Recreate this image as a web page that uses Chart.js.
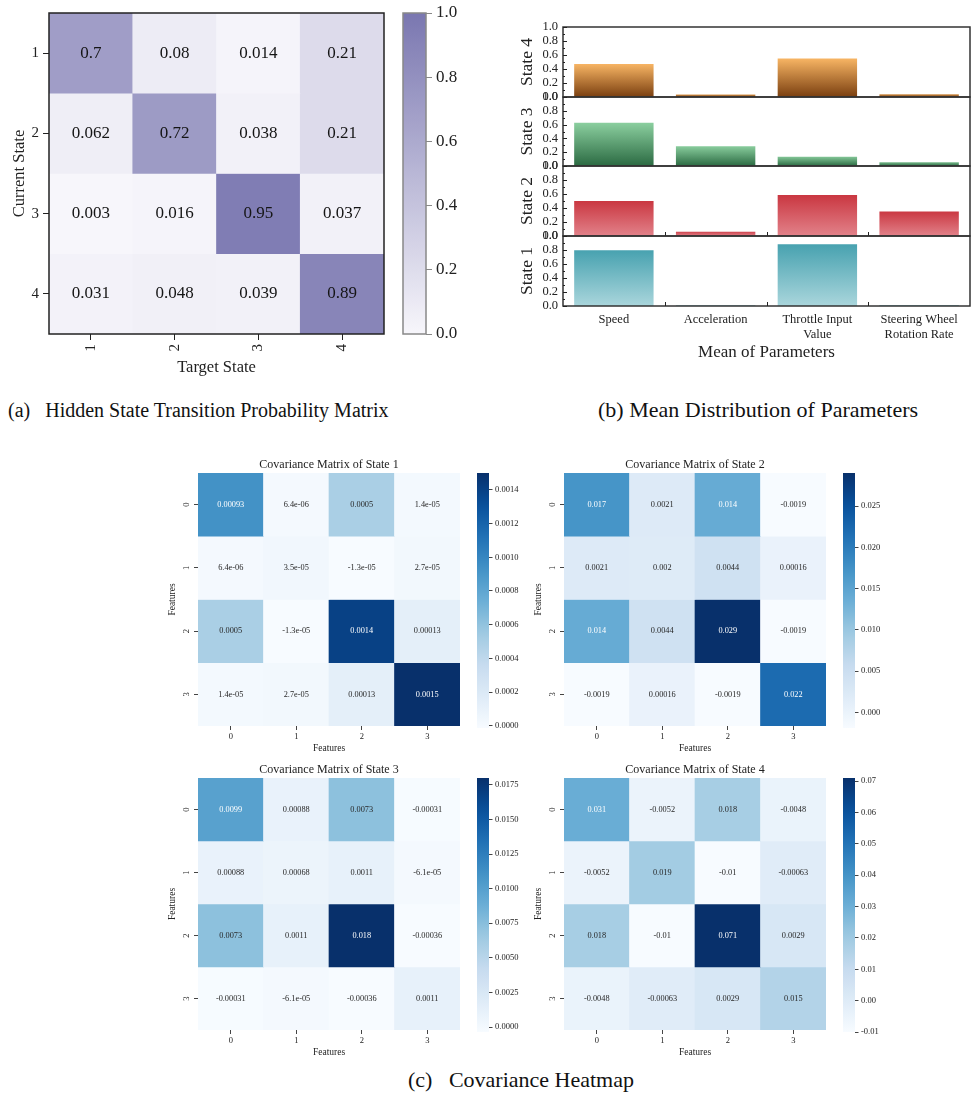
<!DOCTYPE html>
<html>
<head>
<meta charset="utf-8">
<script src="https://cdn.jsdelivr.net/npm/chart.js@4.4.1/dist/chart.umd.min.js"></script>
<style>
  body { margin: 0; background: #fff; width: 979px; height: 1098px; position: relative; overflow: hidden; }
  .cap { position: absolute; white-space: pre; color: #111; font-family: "Liberation Serif", "Times New Roman", serif; line-height: 1; }
</style>
</head>
<body>
<div class="cap" style="left:8px;top:400px;font-size:20px">(a)   Hidden State Transition Probability Matrix</div>
<div class="cap" style="left:598px;top:399px;font-size:22px">(b) Mean Distribution of Parameters</div>
<div class="cap" style="left:408px;top:1069px;font-size:22px">(c)   Covariance Heatmap</div>
<script>
// transition matrix (rows = current state, cols = target state)
const stateLabels = ['1', '2', '3', '4'];
const transition = [
  [0.7, 0.08, 0.014, 0.21],
  [0.062, 0.72, 0.038, 0.21],
  [0.003, 0.016, 0.95, 0.037],
  [0.031, 0.048, 0.039, 0.89]
];
const transitionTicks = [0, 0.2, 0.4, 0.6, 0.8, 1.0];

// normalised parameter means per state
const paramLabels = ['Speed', 'Acceleration', ['Throttle Input', 'Value'], ['Steering Wheel', 'Rotation Rate']];
const meanState4 = [0.485, 0.05, 0.565, 0.055];
const meanState3 = [0.64, 0.30, 0.15, 0.07];
const meanState2 = [0.515, 0.075, 0.60, 0.365];
const meanState1 = [0.81, 0.025, 0.895, 0.03];

// covariance matrices
const featureLabels = ['0', '1', '2', '3'];
const covState1 = [
  [0.00093, 6.4e-06, 0.0005, 1.4e-05],
  [6.4e-06, 3.5e-05, -1.3e-05, 2.7e-05],
  [0.0005, -1.3e-05, 0.0014, 0.00013],
  [1.4e-05, 2.7e-05, 0.00013, 0.0015]
];
const covState2 = [
  [0.017, 0.0021, 0.014, -0.0019],
  [0.0021, 0.002, 0.0044, 0.00016],
  [0.014, 0.0044, 0.029, -0.0019],
  [-0.0019, 0.00016, -0.0019, 0.022]
];
const covState3 = [
  [0.0099, 0.00088, 0.0073, -0.00031],
  [0.00088, 0.00068, 0.0011, -6.1e-05],
  [0.0073, 0.0011, 0.018, -0.00036],
  [-0.00031, -6.1e-05, -0.00036, 0.0011]
];
const covState4 = [
  [0.031, -0.0052, 0.018, -0.0048],
  [-0.0052, 0.019, -0.01, -0.00063],
  [0.018, -0.01, 0.071, 0.0029],
  [-0.0048, -0.00063, 0.0029, 0.015]
];
const covTicks1 = [0, 0.0002, 0.0004, 0.0006, 0.0008, 0.0010, 0.0012, 0.0014];
const covTicks2 = [0, 0.005, 0.010, 0.015, 0.020, 0.025];
const covTicks3 = [0, 0.0025, 0.0050, 0.0075, 0.0100, 0.0125, 0.0150, 0.0175];
const covTicks4 = [-0.01, 0, 0.01, 0.02, 0.03, 0.04, 0.05, 0.06, 0.07];

const SERIF = '"Liberation Serif", "Times New Roman", serif';
Chart.defaults.font.family = SERIF;
Chart.defaults.color = '#222';
Chart.defaults.animation = false;
Chart.defaults.responsive = false;
Chart.defaults.plugins.legend.display = false;
Chart.defaults.plugins.tooltip.enabled = false;

const purpleStops = ['#f7f6fb', '#7a77b0'];
const bluesStops = ['#f7fbff', '#deebf7', '#c6dbef', '#9ecae1', '#6baed6', '#4292c6', '#2171b5', '#08519c', '#08306b'];

function hexToRgb(h) {
  return [1, 3, 5].map(i => parseInt(h.slice(i, i + 2), 16));
}
function rgbToHex(c) {
  return '#' + c.map(v => v.toString(16).padStart(2, '0')).join('');
}
function rampColor(stops, t) {
  t = Math.min(1, Math.max(0, t));
  const n = stops.length - 1;
  const i = Math.min(n - 1, Math.floor(t * n));
  const f = t * n - i;
  const a = hexToRgb(stops[i]), b = hexToRgb(stops[i + 1]);
  return rgbToHex(a.map((v, k) => Math.round(v + (b[k] - v) * f)));
}
function luminance(hex) {
  const [r, g, b] = hexToRgb(hex).map(v => {
    v /= 255;
    return v <= 0.03928 ? v / 12.92 : Math.pow((v + 0.055) / 1.055, 2.4);
  });
  return 0.2126 * r + 0.7152 * g + 0.0722 * b;
}
// light cells get dark text, dark cells white
const seabornText = hex => luminance(hex) > 0.408 ? '#262626' : '#ffffff';

// python-style "%.2g"
function fmtG(v) {
  if (v === 0) return '0';
  const e = Math.floor(Math.log10(Math.abs(v)));
  if (e < -4) {
    let [m, ex] = v.toExponential(1).split('e');
    m = m.replace(/\.0$/, '');
    const n = parseInt(ex, 10);
    return m + 'e' + (n < 0 ? '-' : '+') + String(Math.abs(n)).padStart(2, '0');
  }
  return String(parseFloat(v.toPrecision(2)));
}

function makeCanvas(left, top, w, h) {
  const c = document.createElement('canvas');
  c.width = w;
  c.height = h;
  c.style.cssText = `position:absolute;left:${left}px;top:${top}px;width:${w}px;height:${h}px`;
  document.body.appendChild(c);
  return c;
}

function rampFill(chart, stops) {
  const a = chart.chartArea;
  if (!a) return stops[0];
  const g = chart.ctx.createLinearGradient(0, a.bottom, 0, a.top);
  for (let i = 0; i <= 20; i++) g.addColorStop(i / 20, rampColor(stops, i / 20));
  return g;
}

const frame = {
  id: 'frame',
  afterDatasetsDraw(chart, args, opts) {
    if (!opts.width) return;
    const { ctx, chartArea: a } = chart;
    ctx.save();
    ctx.strokeStyle = opts.color;
    ctx.lineWidth = opts.width;
    ctx.strokeRect(a.left, a.top, a.right - a.left, a.bottom - a.top);
    ctx.restore();
  }
};

function cellText(size, colorFor) {
  return {
    id: 'cellText',
    afterDatasetsDraw(chart) {
      const ctx = chart.ctx;
      ctx.save();
      ctx.font = `${size}px ${SERIF}`;
      ctx.textAlign = 'center';
      ctx.textBaseline = 'middle';
      chart.data.datasets.forEach((ds, r) => {
        chart.getDatasetMeta(r).data.forEach((bar, c) => {
          ctx.fillStyle = colorFor(ds.backgroundColor[c]);
          ctx.fillText(fmtG(ds.values[c]), bar.x, (bar.y + bar.base) / 2);
        });
      });
      ctx.restore();
    }
  };
}

// vertical tick labels on the left axis
function rotatedYLabels(labels, size) {
  return {
    id: 'rotatedYLabels',
    afterDraw(chart) {
      const { ctx, chartArea, scales } = chart;
      ctx.save();
      ctx.font = `${size}px ${SERIF}`;
      ctx.fillStyle = '#222';
      ctx.textAlign = 'center';
      ctx.textBaseline = 'middle';
      labels.forEach((lab, i) => {
        ctx.save();
        ctx.translate(chartArea.left - 11, scales.y.getPixelForValue(i + 0.5));
        ctx.rotate(-Math.PI / 2);
        ctx.fillText(lab, 0, 0);
        ctx.restore();
      });
      ctx.restore();
    }
  };
}

// ticks pointing into the plot
function innerTicks(withXTicks) {
  return {
    id: 'innerTicks',
    afterDraw(chart) {
      const { ctx, chartArea: a, scales } = chart;
      ctx.save();
      ctx.strokeStyle = '#222';
      ctx.lineWidth = 1;
      ctx.beginPath();
      for (let i = 0; i <= 10; i++) {
        const y = Math.round(scales.y.getPixelForValue(i / 10)) + 0.5;
        ctx.moveTo(a.left, y);
        ctx.lineTo(a.left + (i % 2 === 0 ? 4 : 2), y);
      }
      if (withXTicks) {
        for (let k = 1; k < paramLabels.length; k++) {
          const x = Math.round((scales.x.getPixelForValue(k - 1) + scales.x.getPixelForValue(k)) / 2) + 0.5;
          ctx.moveTo(x, a.bottom);
          ctx.lineTo(x, a.bottom - 4);
        }
      }
      ctx.stroke();
      ctx.restore();
    }
  };
}

function colorbar(canvas, vmin, vmax, ticks, stops, o) {
  return new Chart(canvas, {
    type: 'bar',
    data: {
      labels: [''],
      datasets: [{
        data: [[vmin, vmax]],
        backgroundColor: c => rampFill(c.chart, stops),
        borderWidth: 0,
        barPercentage: 1,
        categoryPercentage: 1
      }]
    },
    options: {
      layout: { padding: o.padding },
      scales: {
        x: { display: false },
        y: {
          position: 'right',
          min: vmin,
          max: vmax,
          afterBuildTicks(s) { s.ticks = ticks.map(v => ({ value: v })); },
          ticks: { callback: v => v.toFixed(o.digits), font: { size: o.fontSize }, padding: o.pad, autoSkip: false, color: '#222' },
          grid: { drawOnChartArea: false, tickLength: o.tickLen, color: o.tickColor },
          border: { display: false },
          afterFit(s) { s.width = o.axisWidth; }
        }
      },
      plugins: { frame: { color: o.frameColor, width: o.frameWidth } }
    },
    plugins: [frame]
  });
}

function cellDatasets(matrix, color) {
  return matrix.map((row, r) => ({
    data: row.map(() => [r, r + 1]),
    values: row,
    backgroundColor: row.map(color),
    borderWidth: 0,
    barPercentage: 1,
    categoryPercentage: 1,
    grouped: false
  }));
}

// ---------- (a) transition probabilities ----------
new Chart(makeCanvas(0, 0, 400, 380), {
  type: 'bar',
  data: { labels: stateLabels, datasets: cellDatasets(transition, v => rampColor(purpleStops, v)) },
  options: {
    layout: { padding: { top: 13, right: 16 } },
    scales: {
      x: {
        offset: true,
        grid: { offset: false, drawOnChartArea: false, tickLength: 6, color: '#222' },
        border: { display: false },
        ticks: { minRotation: 90, maxRotation: 90, padding: 4, font: { size: 15 }, color: '#222' },
        title: { display: true, text: 'Target State', font: { size: 16.5 }, color: '#222', padding: { top: 0, bottom: 2 } },
        afterFit(s) { s.height = 46; }
      },
      y: {
        min: 0, max: 4, reverse: true,
        afterBuildTicks(s) { s.ticks = stateLabels.map((_, i) => ({ value: i + 0.5 })); },
        ticks: { callback: (v, i) => stateLabels[i], font: { size: 15 }, padding: 4, autoSkip: false, color: '#222' },
        grid: { drawOnChartArea: false, tickLength: 6, color: '#222' },
        border: { display: false },
        title: { display: true, text: 'Current State', font: { size: 16.5 }, color: '#222', padding: { top: 10, bottom: 0 } },
        afterFit(s) { s.width = 49; }
      }
    },
    plugins: { frame: { color: '#222', width: 1.5 } }
  },
  plugins: [cellText(17, () => '#151515'), frame]
});

colorbar(makeCanvas(396, -3, 80, 353), 0, 1, transitionTicks, purpleStops, {
  padding: { left: 7, top: 16, bottom: 16 }, digits: 1, fontSize: 17, pad: 4,
  tickLen: 6, tickColor: '#888', axisWidth: 50, frameColor: '#888', frameWidth: 1.5
});

// ---------- (b) mean of parameters ----------
function barFill(top, bottom) {
  return c => {
    const { chart, raw } = c;
    if (!chart.chartArea || typeof raw !== 'number') return top;
    const y = chart.scales.y;
    const g = chart.ctx.createLinearGradient(0, y.getPixelForValue(raw), 0, y.getPixelForValue(0));
    g.addColorStop(0, top);
    g.addColorStop(1, bottom);
    return g;
  };
}

function meanChart(canvas, values, colors, o) {
  return new Chart(canvas, {
    type: 'bar',
    data: {
      labels: paramLabels,
      datasets: [{
        data: values,
        backgroundColor: barFill(colors[0], colors[1]),
        borderColor: 'rgba(255,255,255,0.9)',
        borderWidth: 1,
        barPercentage: 0.8,
        categoryPercentage: 1
      }]
    },
    options: {
      layout: { padding: o.padding },
      scales: {
        x: {
          display: o.showX,
          grid: { display: false, drawTicks: false },
          border: { display: false },
          ticks: { font: { size: 12.5 }, padding: 6, maxRotation: 0, autoSkip: false, color: '#222' },
          title: { display: true, text: 'Mean of Parameters', font: { size: 17 }, color: '#222', padding: { top: 0, bottom: 7 } },
          afterFit(s) { if (o.showX) s.height = 64; }
        },
        y: {
          min: 0, max: 1,
          ticks: { stepSize: 0.2, padding: 5, autoSkip: false, font: { size: 12.5 }, color: '#222', callback: v => v.toFixed(1) },
          grid: { display: false, drawTicks: false },
          border: { display: false },
          title: { display: true, text: o.title, font: { size: 17.5 }, color: '#222', padding: { top: 27, bottom: 0 } },
          afterFit(s) { s.width = 73; }
        }
      },
      plugins: { frame: { color: '#333', width: 1.5 } }
    },
    plugins: [frame, innerTicks(o.xTicks)]
  });
}

meanChart(makeCanvas(490, 10, 489, 101), meanState4, ['#fbb866', '#7a3f10'],
  { title: 'State 4', padding: { top: 17, right: 9, bottom: 14 }, showX: false, xTicks: false });
meanChart(makeCanvas(490, 83, 489, 97), meanState3, ['#8dd1a1', '#2b6a42'],
  { title: 'State 3', padding: { top: 14, right: 9, bottom: 14 }, showX: false, xTicks: false });
meanChart(makeCanvas(490, 152, 489, 98), meanState2, ['#c9353f', '#e2828a'],
  { title: 'State 2', padding: { top: 14, right: 9, bottom: 14 }, showX: false, xTicks: true });
meanChart(makeCanvas(490, 222, 489, 148), meanState1, ['#46a1af', '#aad6dc'],
  { title: 'State 1', padding: { top: 14, right: 9, bottom: 0 }, showX: true, xTicks: true });

// ---------- (c) covariance heatmaps ----------
function covarianceMap(left, top, height, title, matrix, ticks, digits) {
  const flat = matrix.flat();
  const vmin = Math.min(...flat), vmax = Math.max(...flat);
  const color = v => rampColor(bluesStops, (v - vmin) / (vmax - vmin));
  new Chart(makeCanvas(left, top, 310, height), {
    type: 'bar',
    data: { labels: featureLabels, datasets: cellDatasets(matrix, color) },
    options: {
      layout: { padding: { right: 10 } },
      scales: {
        x: {
          offset: true,
          grid: { offset: false, drawOnChartArea: false, tickLength: 4, color: '#444' },
          border: { display: false },
          ticks: { font: { size: 8.5 }, padding: 2, maxRotation: 0, color: '#222' },
          title: { display: true, text: 'Features', font: { size: 9.5 }, color: '#222', padding: { top: 0, bottom: 2 } },
          afterFit(s) { s.height = 30; }
        },
        y: {
          min: 0, max: 4, reverse: true,
          afterBuildTicks(s) { s.ticks = featureLabels.map((_, i) => ({ value: i + 0.5 })); },
          ticks: { display: false },
          grid: { drawOnChartArea: false, tickLength: 4, color: '#444' },
          border: { display: false },
          title: { display: true, text: 'Features', font: { size: 9.5 }, color: '#222', padding: { top: 7, bottom: 0 } },
          afterFit(s) { s.width = 38; }
        }
      },
      plugins: {
        title: { display: true, text: title, fullSize: false, color: '#222', font: { size: 12, weight: 'normal' }, padding: { top: 5, bottom: 0.6 } }
      }
    },
    plugins: [cellText(8.3, seabornText), rotatedYLabels(featureLabels, 8.5)]
  });
  colorbar(makeCanvas(left + 310, top + 10, 60, height - 28), vmin, vmax, ticks, bluesStops, {
    padding: { left: 7, top: 10, bottom: 10 }, digits, fontSize: 8.5, pad: 2.5,
    tickLen: 3.5, tickColor: '#444', axisWidth: 41, frameColor: '#000', frameWidth: 0
  });
}

covarianceMap(160, 453, 303, 'Covariance Matrix of State 1', covState1, covTicks1, 4);
covarianceMap(526, 453, 303, 'Covariance Matrix of State 2', covState2, covTicks2, 3);
covarianceMap(160, 758, 302, 'Covariance Matrix of State 3', covState3, covTicks3, 4);
covarianceMap(526, 758, 302, 'Covariance Matrix of State 4', covState4, covTicks4, 2);
</script>
</body>
</html>
